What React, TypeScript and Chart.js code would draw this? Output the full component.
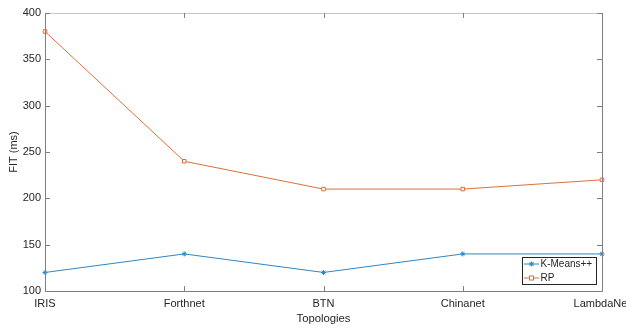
import React, { useEffect, useRef } from "react";
import { Chart, registerables } from "chart.js";

Chart.register(...registerables);

const categories = ["IRIS", "Forthnet", "BTN", "Chinanet", "LambdaNet"];
const kmeansValues = [120, 140, 120, 140, 140];
const rpValues = [380, 240, 210, 210, 220];
const yTicks = [100, 150, 200, 250, 300, 350, 400];

const FONT = "'Liberation Sans', Arial, Helvetica, sans-serif";
const TEXT = "#262626";
const AXIS = "#7f7f7f";

const boxPlugin = {
  id: "matlabBox",
  afterDatasetsDraw(chart: any) {
    const { ctx, chartArea: a, scales } = chart;
    const x = scales.x;
    const y = scales.y;
    ctx.save();
    ctx.lineWidth = 1;
    // box
    ctx.strokeStyle = "#c8c8c8";
    ctx.beginPath();
    ctx.moveTo(a.left, a.top + 0.5);
    ctx.lineTo(a.right, a.top + 0.5);
    ctx.stroke();
    ctx.strokeStyle = AXIS;
    ctx.beginPath();
    ctx.moveTo(a.left + 0.5, a.top);
    ctx.lineTo(a.left + 0.5, a.bottom + 0.5);
    ctx.lineTo(a.right + 0.5, a.bottom + 0.5);
    ctx.lineTo(a.right + 0.5, a.top);
    ctx.stroke();
    // ticks
    const tl = 5;
    ctx.beginPath();
    categories.forEach((_, i) => {
      const px = Math.round(x.getPixelForValue(i)) + 0.5;
      ctx.moveTo(px, a.bottom);
      ctx.lineTo(px, a.bottom - tl);
      ctx.moveTo(px, a.top);
      ctx.lineTo(px, a.top + tl);
    });
    yTicks.forEach((v) => {
      const py = Math.round(y.getPixelForValue(v)) + 0.5;
      ctx.moveTo(a.left, py);
      ctx.lineTo(a.left + tl, py);
      ctx.moveTo(a.right, py);
      ctx.lineTo(a.right - tl, py);
    });
    ctx.stroke();

    // legend
    const lx = 522, ly = 257, lw = 74, lh = 27;
    ctx.fillStyle = "#ffffff";
    ctx.fillRect(lx, ly, lw, lh);
    ctx.strokeStyle = "#262626";
    ctx.strokeRect(lx + 0.5, ly + 0.5, lw, lh);
    ctx.font = `10px ${FONT}`;
    ctx.textBaseline = "middle";
    chart.data.datasets.forEach((ds: any, i: number) => {
      const ry = ly + 7 + i * 14;
      const mx = lx + 9.5;
      ctx.strokeStyle = ds.borderColor;
      ctx.beginPath();
      ctx.moveTo(lx + 2, ry);
      ctx.lineTo(lx + 17, ry);
      ctx.stroke();
      if (ds.pointStyle === "rect") {
        ctx.fillStyle = "#fff";
        ctx.fillRect(mx - 2, ry - 2, 4, 4);
        ctx.strokeRect(mx - 2, ry - 2, 4, 4);
      } else {
        ctx.beginPath();
        ctx.moveTo(mx, ry - 2.5);
        ctx.lineTo(mx, ry + 2.5);
        ctx.moveTo(mx - 2.5, ry);
        ctx.lineTo(mx + 2.5, ry);
        ctx.moveTo(mx - 2, ry - 2);
        ctx.lineTo(mx + 2, ry + 2);
        ctx.moveTo(mx + 2, ry - 2);
        ctx.lineTo(mx - 2, ry + 2);
        ctx.stroke();
      }
      ctx.fillStyle = TEXT;
      ctx.textAlign = "left";
      ctx.fillText(ds.label, lx + 18.5, ry + 0.5);
    });
    ctx.restore();
  },
};

export default function App() {
  const ref = useRef<HTMLCanvasElement>(null);
  useEffect(() => {
    if (!ref.current) return;
    const chart = new Chart(ref.current, {
      type: "line",
      data: {
        labels: categories,
        datasets: [
          {
            label: "K-Means++",
            data: kmeansValues,
            borderColor: "#2f86c4",
            backgroundColor: "#2f86c4",
            borderWidth: 1,
            pointStyle: "star",
            pointRadius: 2.5,
            pointBorderWidth: 1,
            tension: 0,
          },
          {
            label: "RP",
            data: rpValues,
            borderColor: "#d9703c",
            backgroundColor: "#ffffff",
            borderWidth: 1,
            pointStyle: "rect",
            pointRadius: 2.5,
            pointBorderWidth: 1,
            tension: 0,
          },
        ],
      },
      options: {
        animation: false,
        responsive: false,
        maintainAspectRatio: false,
        layout: { padding: { top: 13, right: 24, left: 0, bottom: 0 } },
        plugins: {
          legend: { display: false },
          tooltip: { enabled: false },
        },
        scales: {
          x: {
            type: "category",
            offset: false,
            grid: { display: false, drawTicks: false },
            border: { display: false },
            ticks: {
              color: TEXT,
              font: { family: FONT, size: 11 },
              padding: 6,
              maxRotation: 0,
              autoSkip: false,
            },
            title: {
              display: true,
              text: "Topologies",
              color: TEXT,
              font: { family: FONT, size: 11.3 },
              padding: { top: 0, bottom: 4 },
            },
            afterFit: (s: any) => {
              s.height = 39;
              s.paddingLeft = 0;
              s.paddingRight = 0;
            },
          },
          y: {
            min: 100,
            max: 400,
            grid: { display: false, drawTicks: false },
            border: { display: false },
            ticks: {
              stepSize: 50,
              color: TEXT,
              font: { family: FONT, size: 11 },
              padding: 4,
            },
            title: {
              display: true,
              text: "FIT (ms)",
              color: TEXT,
              font: { family: FONT, size: 11 },
              padding: { top: 7, bottom: 0 },
            },
            afterFit: (s: any) => {
              s.width = 45;
              s.paddingTop = 0;
              s.paddingBottom = 0;
            },
          },
        },
      },
      plugins: [boxPlugin],
    });
    return () => chart.destroy();
  }, []);
  return (
    <div style={{ position: "fixed", left: 0, top: 0, width: 626, height: 330, background: "#fff" }}>
      <canvas ref={ref} width={626} height={330} style={{ display: "block" }} />
    </div>
  );
}
